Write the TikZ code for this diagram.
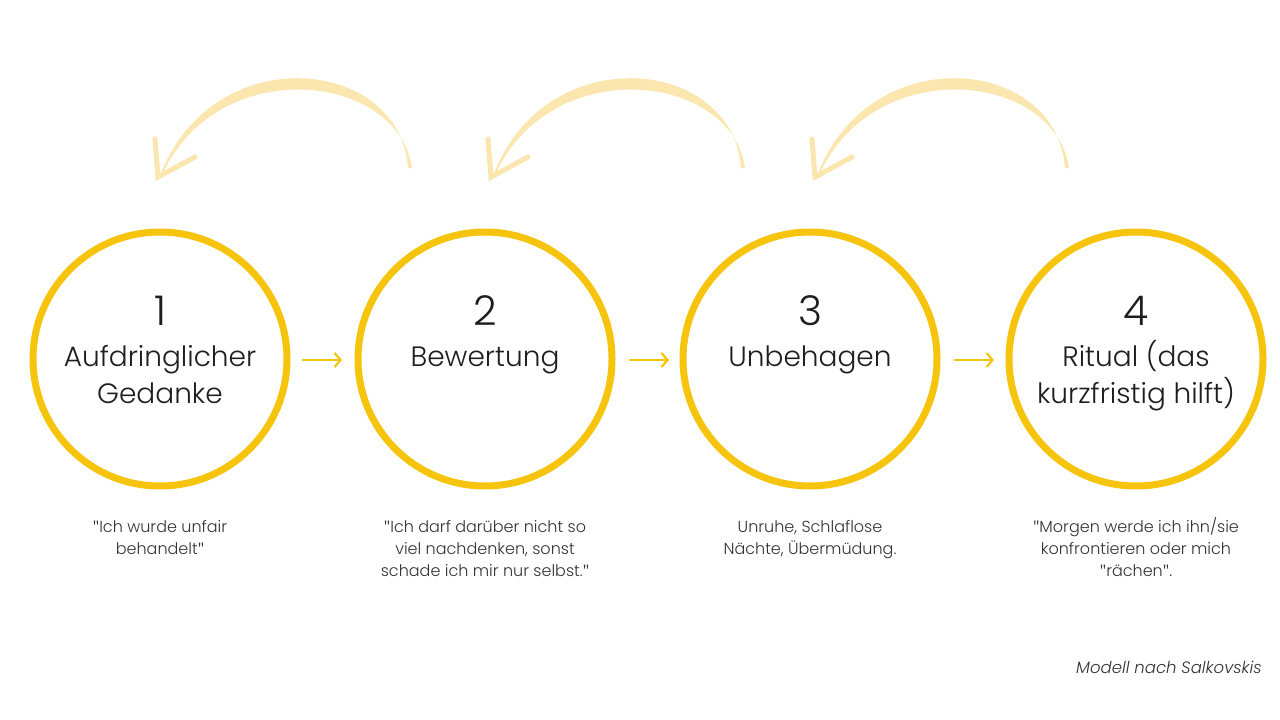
\documentclass[tikz,border=0pt]{standalone}
\usepackage{fontspec}
\setmainfont{Poppins Light}[ItalicFont={Poppins Light Italic}]
\newfontfamily\qf{Open Sans}
\newcommand{\qq}{{\qf"}}
\usetikzlibrary{arrows.meta}
\definecolor{ring}{HTML}{F6C40C}
\definecolor{pale}{HTML}{FAE6AE}
\definecolor{ink}{HTML}{1E1E1E}
\definecolor{note}{HTML}{333333}
\tikzset{
  ring/.style={circle, draw=ring, line width=7pt, minimum size=254pt, inner sep=0pt},
  numtext/.style={font=\fontsize{41}{41}\selectfont, text=ink, inner sep=0pt, anchor=base},
  titletext/.style={font=\fontsize{28}{37}\selectfont, text=ink, align=center, inner sep=0pt, anchor=base},
  notetext/.style={font=\fontsize{16}{22}\selectfont, text=note, align=center, inner sep=0pt, anchor=base},
  smallarrow/.style={draw=ring, line width=2.2pt, -{Straight Barb[length=6pt,width=14pt]}},
  brush/.style={fill=pale, draw=none},
  barb/.style={draw=pale, line width=5pt, line cap=round}
}
\newcommand{\backarrow}[1]{%
  \begin{scope}[xshift=#1]
    \fill[brush] (408,168) .. controls (400,56) and (212,38) .. (160,176)
       -- (164,171) .. controls (220,54) and (398,72) .. (412,168) -- cycle;
    \coordinate (tip) at (158,177);
    \coordinate (b1) at (155,139);
    \coordinate (b2) at (195,157);
    \draw[barb] (b1) -- (tip) -- (b2);
  \end{scope}}
\begin{document}
\begin{tikzpicture}[x=1pt,y=-1pt]
\useasboundingbox[fill=white] (0,0) rectangle (1280,720);
% back arrows
\backarrow{0pt}
\backarrow{333pt}
\backarrow{657pt}
% circles
\node[ring] (c1) at (160,359) {};
\node[ring] (c2) at (485,359) {};
\node[ring] (c3) at (810,359) {};
\node[ring] (c4) at (1136,359) {};
% numbers
\node[numtext] (n1) at (160,325) {1};
\node[numtext] (n2) at (485,325) {2};
\node[numtext] (n3) at (810,325) {3};
\node[numtext] (n4) at (1136,325) {4};
% titles (base = baseline of last line)
\node[titletext] (t1) at (160,403) {Aufdringlicher\\Gedanke};
\node[titletext] (t2) at (485,366) {Bewertung};
\node[titletext] (t3) at (810,366) {Unbehagen};
\node[titletext] (t4) at (1136,403) {Ritual (das\\kurzfristig hilft)};
% forward arrows
\coordinate (a1s) at (302,360); \coordinate (a1e) at (342,360);
\coordinate (a2s) at (629,360); \coordinate (a2e) at (669,360);
\coordinate (a3s) at (954,360); \coordinate (a3e) at (994,360);
\draw[smallarrow] (a1s) -- (a1e);
\draw[smallarrow] (a2s) -- (a2e);
\draw[smallarrow] (a3s) -- (a3e);
% notes (base = baseline of last line)
\node[notetext] (d1) at (160,554) {\qq Ich wurde unfair\\behandelt\qq};
\node[notetext] (d2) at (485,576) {\qq Ich darf darüber nicht so\\viel nachdenken, sonst\\schade ich mir nur selbst.\qq};
\node[notetext] (d3) at (810,554) {Unruhe, Schlaflose\\Nächte, Übermüdung.};
\node[notetext] (d4) at (1136,576) {\qq Morgen werde ich ihn/sie\\konfrontieren oder mich\\\qq rächen\qq.};
\node[font=\itshape\fontsize{16.5}{18}\selectfont, text=note, anchor=base east, inner sep=0pt] (src) at (1262,673) {Modell nach Salkovskis};
\end{tikzpicture}
\end{document}
